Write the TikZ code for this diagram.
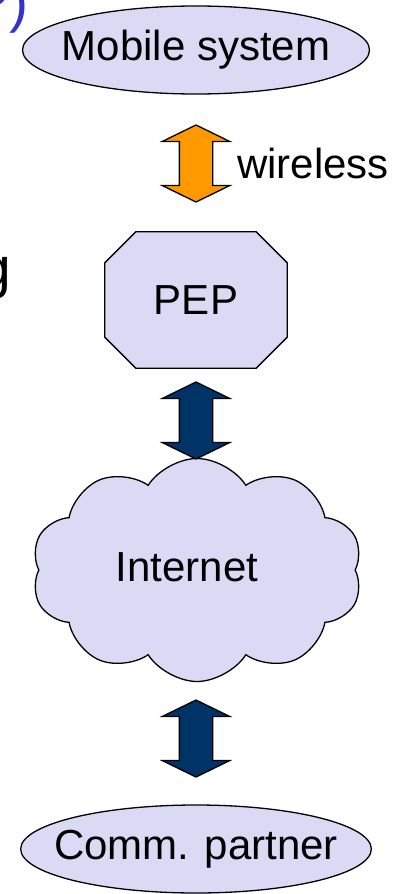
\documentclass[tikz,border=0pt]{standalone}
\usepackage{fontspec}
\setmainfont{Liberation Sans}
\usepackage{tikz}
\usetikzlibrary{shapes.geometric, shapes.symbols, shapes.arrows, positioning, calc}

\definecolor{boxfill}{RGB}{218,218,244}
\definecolor{wlorange}{RGB}{255,153,0}
\definecolor{netblue}{RGB}{0,51,102}
\definecolor{titleblue}{RGB}{51,51,204}

\begin{document}
\begin{tikzpicture}[x=1pt, y=-1pt,
            txt/.style={font=\fontsize{42}{48}\selectfont},
            bigtxt/.style={font=\fontsize{57}{64}\selectfont, inner sep=0pt, anchor=base east},
            outline/.style={draw=black, line width=1.3pt, fill=boxfill},
            endpoint/.style={ellipse, outline, minimum width=347pt, minimum height=88pt, inner xsep=-18pt, inner ysep=11pt, txt},
            proxy/.style={rectangle, minimum width=182pt, minimum height=136pt, inner sep=0pt, txt},
            net/.style={cloud, cloud puffs=10, cloud puff arc=115, aspect=1.5, outline, minimum width=331pt, minimum height=223pt, inner sep=0pt, txt},
            link/.style={double arrow, double arrow tip angle=128, double arrow head extend=17pt, draw=black, line width=1.3pt, minimum height=77pt, minimum width=66pt, inner xsep=0pt, inner ysep=16pt, rotate=90}
        ]
            \useasboundingbox (0,0) rectangle (395,894);
            \clip (0,0) rectangle (395,894);

% cut-off text at the left edge
            \node[bigtxt, text=titleblue] (title) at (29,21) {(PEP)};
            \node[bigtxt] (bodytext) at (11,287) {g};

% chain from mobile system to partner
            \node[endpoint] (mobile) at (196,50) {Mobile system};
            \node[proxy] (pep) at (196,300) {};
            \filldraw[outline] ($(pep.north west)+(31,0)$) -- ($(pep.north east)+(-31,0)$) -- ($(pep.north east)+(0,31)$)
                -- ($(pep.south east)+(0,-31)$) -- ($(pep.south east)+(-31,0)$) -- ($(pep.south west)+(31,0)$)
                -- ($(pep.south west)+(0,-31)$) -- ($(pep.north west)+(0,31)$) -- cycle;
            \node[txt] (peptext) at (pep) {PEP};
            \node[net] (internet) at (197,570) {};
            \node[txt] (inettext) at (187,567) {Internet};
            \node[endpoint] (partner) at (196,849) {Comm. partner};

% block arrows
            \node[link, fill=wlorange] (wlarrow) at (196,163.5) {};
            \node[txt, anchor=west, inner sep=0pt] (wireless) at (237,163) {wireless};
            \node[link, fill=netblue] (inetarrow) at (196,420.5) {};
            \node[link, fill=netblue] (partarrow) at (196,738.5) {};

        \end{tikzpicture}
\end{document}
